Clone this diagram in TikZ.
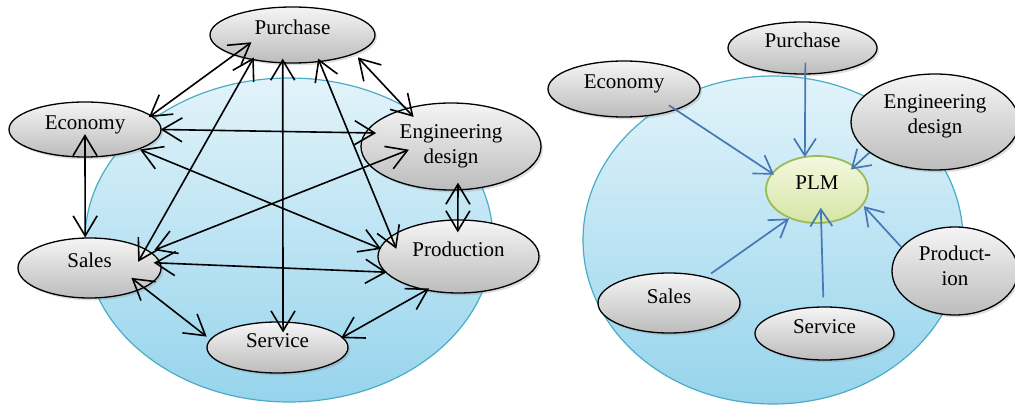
\documentclass[tikz,border=0pt]{standalone}
\usepackage{fontspec}
\setmainfont{Liberation Serif}
\usetikzlibrary{positioning, arrows.meta, shapes.geometric, shadows}
\definecolor{skytop}{RGB}{226,243,250}
\definecolor{skybot}{RGB}{150,212,236}
\definecolor{skyline}{RGB}{75,172,198}
\definecolor{boxtop}{RGB}{245,245,245}
\definecolor{boxbot}{RGB}{188,188,188}
\definecolor{plmtop}{RGB}{244,248,222}
\definecolor{plmbot}{RGB}{214,229,166}
\definecolor{plmline}{RGB}{155,187,89}
\definecolor{arrblue}{RGB}{70,120,182}
\tikzset{dept/.style={ellipse, draw, line width=0.65pt, inner sep=0pt, align=center, top color=boxtop, bottom color=boxbot, drop shadow={shadow xshift=1pt, shadow yshift=-1.2pt, opacity=0.25}, font=\fontsize{10.5}{12.5}\selectfont}}
\tikzset{one/.style={text height=5pt, text depth=5pt}}
\tikzset{sz/.style args={#1/#2}{minimum width=#1pt, minimum height=#2pt}}
\tikzset{plm/.style={ellipse, draw=plmline, line width=0.9pt, inner sep=0pt, top color=plmtop, bottom color=plmbot, font=\fontsize{10.5}{12.5}\selectfont}}
\tikzset{field/.style={draw=skyline, line width=0.6pt, top color=skytop, bottom color=skybot}}
\tikzset{arr/.style={draw, {Straight Barb[length=10pt,width=12pt]}-{Straight Barb[length=10pt,width=12pt]}, line width=0.8pt}}
\tikzset{plmarr/.style={draw=arrblue, -{Straight Barb[length=8.5pt,width=11pt]}, line width=0.85pt}}

\begin{document}
\begin{tikzpicture}[x=0.5pt, y=-0.5pt]
			\useasboundingbox (0,0) rectangle (1015,405);
			\draw[field] (289,240) ellipse [x radius=102pt, y radius=81pt];
			\draw[field] (773,240) ellipse [x radius=95pt, y radius=82pt];

			% all departments linked to each other
			\node[dept, one, sz=82.5/28] (pur) at (292.5,35) {Purchase};
			\node[dept, one, sz=76/27.5] (eco) at (85,129.5) {Economy};
			\node[dept, sz=90/43.5] (eng) at (451,146.5) {Engineering\\design};
			\node[dept, one, sz=80.5/36.5] (pro) at (458.5,256.5) {Production};
			\node[dept, one, sz=71.5/30] (sal) at (89.5,268) {Sales};
			\node[dept, one, sz=70.5/25.5] (ser) at (277.5,347.5) {Service};

			\draw[arr, shorten <=-1.5pt, shorten >=-11pt] (eco.12) -- (pur.199);
			\draw[arr, shorten <=-1.5pt, shorten >=-7.5pt] (pur.212) -- (sal.19);
			\draw[arr, shorten <=-2.4pt, shorten >=-5.5pt] (pur.251) -- (ser.78);
			\draw[arr, shorten <=-1.9pt, shorten >=-7pt] (pur.315) -- (pro.163);
			\draw[arr, shorten <=2.3pt, shorten >=-5.9pt] (pur.343) -- (eng.140);
			\draw[arr, shorten <=-0.5pt, shorten >=-5.7pt] (eco.0) -- (eng.171);
			\draw[arr, shorten <=0.3pt, shorten >=-1pt] (eco.340) -- (pro.174);
			\draw[arr, shorten <=-11.75pt] (eco.270) -- (sal.98);
			\draw[arr, shorten <=-21.4pt, shorten >=2pt] (eng.193) -- (sal.15);
			\draw[arr, shorten <=-3.9pt, shorten >=-6.5pt] (eng.279) -- (pro.91);
			\draw[arr, shorten <=-3.5pt, shorten >=-1pt] (sal.4) -- (pro.192);
			\draw[arr, shorten <=-8.2pt, shorten >=2.1pt] (sal.340) -- (ser.173);
			\draw[arr, shorten <=-1pt, shorten >=-2pt] (ser.9) -- (pro.226);

			% everything through PLM
			\node[plm, one, sz=51/33.5] (plm) at (817,189.5) {PLM};
			\node[dept, one, sz=74.5/26] (rpur) at (802.5,48) {Purchase};
			\node[dept, one, sz=76/28] (reco) at (624,89) {Economy};
			\node[dept, text depth=8.3pt, sz=84/48] (reng) at (935,122) {Engineering\\design};
			\node[dept, text depth=5.5pt, sz=63/44] (rpro) at (955,271) {Product-\\ion};
			\node[dept, one, sz=71/30] (rsal) at (669,303) {Sales};
			\node[dept, one, sz=69.5/26.5] (rser) at (824.5,333.5) {Service};

			\draw[plmarr, shorten <=-4.3pt, shorten >=-1.5pt] (reco.338) -- (plm.160);
			\draw[plmarr, shorten <=-6pt, shorten >=-0.5pt] (rpur.276) -- (plm.110);
			\draw[plmarr, shorten >=-2.65pt] (reng.205) -- (plm.32);
			\draw[plmarr, shorten >=0.6pt] (rpro.156) -- (plm.341);
			\draw[plmarr, shorten <=4.5pt, shorten >=-8pt] (rser.92) -- (plm.277);
			\draw[plmarr, shorten <=2.95pt] (rsal.35) -- (plm.226);
		\end{tikzpicture}
\end{document}
